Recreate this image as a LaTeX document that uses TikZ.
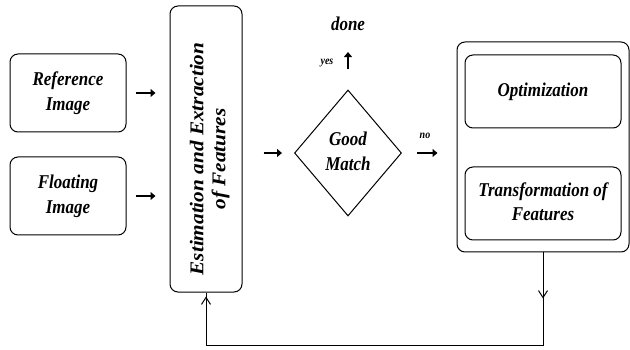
\documentclass[tikz,border=0pt]{standalone}
\usepackage{fontspec}
\usepackage{graphicx}
\setmainfont{Liberation Serif}
\usetikzlibrary{shapes.geometric,arrows.meta,decorations.markings}
\newcommand\hst[1]{\scalebox{1}[1.15]{\begin{tabular}{@{}c@{}}#1\end{tabular}}}
\newcommand\vst[1]{\scalebox{1.09}[1]{\begin{tabular}{@{}c@{}}#1\end{tabular}}}
\begin{document}
\begin{tikzpicture}[x=1pt,y=-1pt,
  every node/.style={font=\fontsize{17}{21.7}\selectfont\bfseries\itshape},
  rbox/.style={draw,line width=1pt,rounded corners=8pt,align=center,inner sep=0pt},
  thickarr/.style={line width=2.8pt,-{Triangle[length=5pt,width=8pt]}},
  small/.style={font=\fontsize{10}{12}\selectfont\bfseries\itshape}]
\useasboundingbox (0,0) rectangle (630,350);
\node[rbox,minimum width=116,minimum height=78] (ref) at (68,93) {\hst{Reference\\Image}};
\node[rbox,minimum width=116,minimum height=78] (flo) at (68,196) {\hst{Floating\\Image}};
\node[rbox,minimum width=72,minimum height=286] (est) at (206,149) {};
\node[rotate=90,font=\fontsize{19.5}{22}\selectfont\bfseries\itshape,inner sep=0pt] (esttext) at (210,159) {\vst{Estimation and Extraction\\of Features}};
\node[draw,diamond,line width=1pt,minimum width=107,minimum height=126,inner sep=0pt] (gm) at (348,153) {\hst{Good\\Match}};
\node (done) at (348,26) {\hst{done}};
\node[small] (yes) at (327,62) {\hst{yes}};
\node[small] (no) at (425,136) {\hst{no}};
\node[rbox,minimum width=172,minimum height=210] (outer) at (543,147) {};
\node[rbox,minimum width=156,minimum height=73] (opt) at (543,91.5) {\hst{Optimization}};
\node[rbox,minimum width=156,minimum height=73] (tra) at (543,203.5) {\hst{Transformation of\\Features}};
\draw[thickarr,shorten <=9pt,shorten >=14pt] (ref.east) -- (ref.east -| est.west);
\draw[thickarr,shorten <=9pt,shorten >=14pt] (flo.east) -- (flo.east -| est.west);
\draw[thickarr,shorten <=21pt,shorten >=12pt] (est.east |- gm.west) -- (gm.west);
\draw[thickarr,shorten <=15pt,shorten >=19pt] (gm.east) -- (gm.east -| outer.west);
\draw[thickarr,shorten <=20pt,shorten >=10pt] (gm.north) -- (done.south);
\draw[line width=1pt,postaction={decorate},
  decoration={markings,
    mark=at position 46pt with {\arrow[line width=1pt]{Straight Barb[length=7pt,width=9pt]}},
    mark=at position -4pt with {\arrow[line width=1pt]{Straight Barb[length=7pt,width=9pt]}}}]
  (outer.south) -- ++(0,93) -| (est.south);
\end{tikzpicture}
\end{document}
